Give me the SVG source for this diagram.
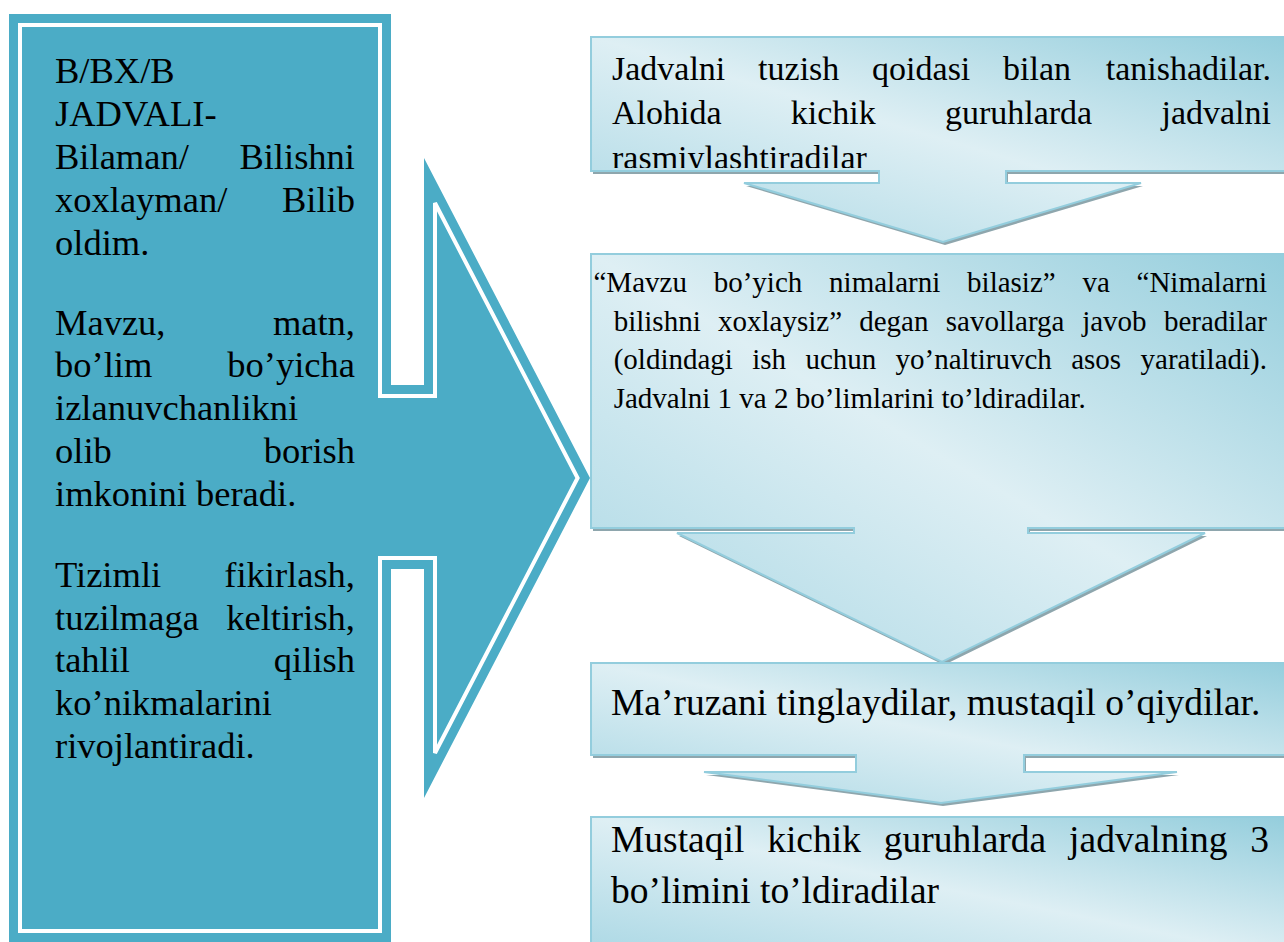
<svg xmlns="http://www.w3.org/2000/svg" width="1284" height="942" viewBox="0 0 1284 942">
<style>
text{font-family:"Liberation Serif","Times New Roman","DejaVu Serif",serif;fill:#000}
.L{font-size:36.5px}
.b1{font-size:34px}
.b2{font-size:29px}
.b3{font-size:37.5px}
.e{text-anchor:end}
.box{fill:url(#g);stroke:#93cddd;stroke-width:2}
.sh{fill:#8ea6ad}
</style>
<defs>
<linearGradient id="g" x1="0" y1="1" x2="1" y2="0">
<stop offset="0" stop-color="#a9d7e4"/>
<stop offset="0.5" stop-color="#deeff4"/>
<stop offset="1" stop-color="#93cddc"/>
</linearGradient>
<clipPath id="c1"><rect x="591" y="37" width="705" height="131"/></clipPath>
</defs>
<rect width="1284" height="942" fill="#fff"/>

<g id="left-panel">
<path d="M9,14 H391 V385 H424 V158 L590,478 L424,798 V569 H391 V942 H9 Z" fill="#4bacc6"/>
<path d="M20,25 H380 V396 H435 V203 L577.6,478 L435,753 V558 H380 V931 H20 Z" fill="none" stroke="#fff" stroke-width="4"/>
<g class="L" font-family="Liberation Serif, Times New Roman, serif">
<text x="55" y="83.3">B/BX/B</text>
<text x="55" y="126">JADVALI-</text>
<text x="55" y="169">Bilaman/</text><text class="e" x="355" y="169">Bilishni</text>
<text x="55" y="211.8">xoxlayman/</text><text class="e" x="355" y="211.8">Bilib</text>
<text x="55" y="254.5">oldim.</text>
<text x="55" y="334.5">Mavzu,</text><text class="e" x="355" y="334.5">matn,</text>
<text x="55" y="377.3">bo’lim</text><text class="e" x="355" y="377.3">bo’yicha</text>
<text x="55" y="420">izlanuvchanlikni</text>
<text x="55" y="462.8">olib</text><text class="e" x="355" y="462.8">borish</text>
<text x="55" y="505.5">imkonini beradi.</text>
<text x="55" y="586.7">Tizimli</text><text class="e" x="355" y="586.7">fikirlash,</text>
<text x="55" y="629.5">tuzilmaga</text><text class="e" x="355" y="629.5">keltirish,</text>
<text x="55" y="672.3">tahlil</text><text class="e" x="355" y="672.3">qilish</text>
<text x="55" y="715">ko’nikmalarini</text>
<text x="55" y="757.8">rivojlantiradi.</text>
</g>
</g>

<g id="box1">
<path class="sh" transform="translate(2,3)" d="M591,37 H1296 V171 H1006 V183 H1141 L943,242 L744,183 H879 V171 H591 Z"/>
<path class="box" d="M591,37 H1296 V171 H1006 V183 H1141 L943,242 L744,183 H879 V171 H591 Z"/>
<g class="b1" clip-path="url(#c1)">
<text x="612" y="80">Jadvalni</text><text x="758.1" y="80">tuzish</text><text x="872.1" y="80">qoidasi</text><text x="1003.1" y="80">bilan</text><text class="e" x="1271" y="80">tanishadilar.</text>
<text x="612" y="124">Alohida</text><text x="790.7" y="124">kichik</text><text x="944.9" y="124">guruhlarda</text><text class="e" x="1271" y="124">jadvalni</text>
<text x="612" y="168.5">rasmiylashtiradilar</text>
</g>
</g>

<g id="box2">
<path class="sh" transform="translate(2,3)" d="M591,254 H1296 V528 H1028 V533 H1205 L942,662 L677,533 H854 V528 H591 Z"/>
<path class="box" d="M591,254 H1296 V528 H1028 V533 H1205 L942,662 L677,533 H854 V528 H591 Z"/>
<g class="b2">
<text x="593.5" y="292">“Mavzu</text><text x="713.7" y="292">bo’yich</text><text x="829.1" y="292">nimalarni</text><text x="967.1" y="292">bilasiz”</text><text x="1082.5" y="292">va</text><text class="e" x="1267" y="292">“Nimalarni</text>
<text x="613.7" y="330.7">bilishni</text><text x="718" y="330.7">xoxlaysiz”</text><text x="859.2" y="330.7">degan</text><text x="945.8" y="330.7">savollarga</text><text x="1082.2" y="330.7">javob</text><text class="e" x="1267" y="330.7">beradilar</text>
<text x="613.7" y="369.3">(oldindagi</text><text x="752.2" y="369.3">ish</text><text x="805.4" y="369.3">uchun</text><text x="895.6" y="369.3">yo’naltiruvch</text><text x="1071.2" y="369.3">asos</text><text class="e" x="1267" y="369.3">yaratiladi).</text>
<text x="613.7" y="408">Jadvalni 1 va 2 bo’limlarini to’ldiradilar.</text>
</g>
</g>

<g id="box3">
<path class="sh" transform="translate(2,3)" d="M591,663 H1296 V755 H1024 V772 H1177 L941,803 L704,772 H856 V755 H591 Z"/>
<path class="box" d="M591,663 H1296 V755 H1024 V772 H1177 L941,803 L704,772 H856 V755 H591 Z"/>
<text class="b3" x="611" y="715">Ma’ruzani tinglaydilar, mustaqil o’qiydilar.</text>
</g>

<g id="box4">
<path class="sh" transform="translate(2,3)" d="M591,817 H1296 V960 H591 Z"/>
<path class="box" d="M591,817 H1296 V960 H591 Z"/>
<g class="b3">
<text x="611" y="851.7">Mustaqil</text><text x="767.2" y="851.7">kichik</text><text x="883.8" y="851.7">guruhlarda</text><text x="1069.1" y="851.7">jadvalning</text><text class="e" x="1269" y="851.7">3</text>
<text x="611" y="903.3">bo’limini to’ldiradilar</text>
</g>
</g>

<g id="connectors"></g>
</svg>
